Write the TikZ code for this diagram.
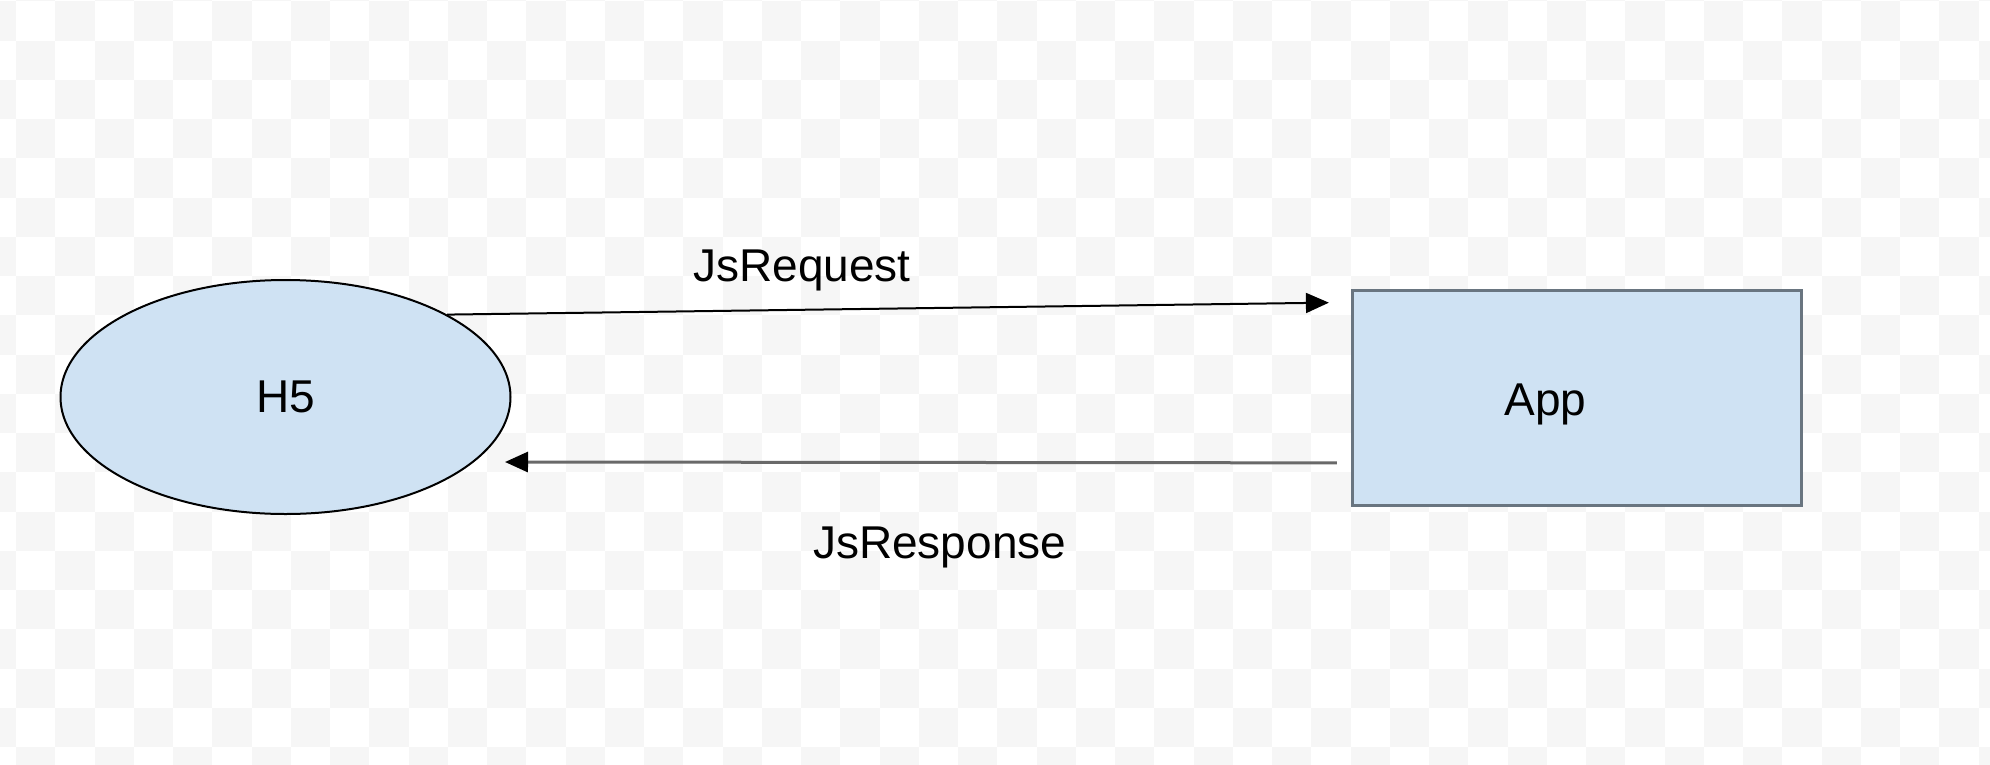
\documentclass[tikz,border=0pt]{standalone}
\usepackage{fontspec}
\setmainfont{Liberation Sans}
\usetikzlibrary{arrows.meta,shapes.geometric}
\definecolor{chk}{RGB}{246,246,246}
\definecolor{boxblue}{RGB}{207,226,243}
\definecolor{boxline}{RGB}{105,117,128}
\definecolor{linegray}{RGB}{105,105,105}
\begin{document}
\begin{tikzpicture}[x=1pt,y=-1pt,
  lbl/.style={font=\fontsize{46}{55}\selectfont, inner sep=0pt},
  shapebox/.style={fill=boxblue, inner sep=0pt},
  headtip/.style={-{Triangle[length=23pt,width=20pt,color=black]}}]
\useasboundingbox (0,0) rectangle (1990,764);
\fill[white] (0,0) rectangle (1990,764);
\begin{scope}
\clip (0,0) rectangle (1990,764);
\foreach \r in {0,...,20}{
  \foreach \c in {0,...,51}{
    \pgfmathtruncatemacro\s{mod(\r+\c,2)}
    \ifnum\s=1
      \fill[chk] ({39.25*\c-23.25},{39.25*\r-37.95}) rectangle ({39.25*\c+16},{39.25*\r+1.3});
    \fi
  }
}
\end{scope}

\node[shapebox, ellipse, draw=black, line width=2pt, minimum width=450pt, minimum height=234pt, lbl] (h5) at (285.5,397) {H5};
\node[shapebox, draw=boxline, line width=3.2pt, minimum width=449pt, minimum height=215pt] (app) at (1577,397.75) {};
\node[lbl, anchor=base] (applbl) at (1545.5,415) {App};
\node[lbl, anchor=base] (req) at (802,281.7) {JsRequest};
\node[lbl, anchor=base] (resp) at (939.7,558.3) {JsResponse};

\draw[line width=2pt, headtip] (h5.27.2) -- ([xshift=-22pt,yshift=-14pt]app.north west);
\draw[line width=3pt, linegray, headtip] ([xshift=-14pt,yshift=44pt]app.south west) -- ([xshift=-6.5pt,yshift=-65pt]h5.east);
\end{tikzpicture}
\end{document}
